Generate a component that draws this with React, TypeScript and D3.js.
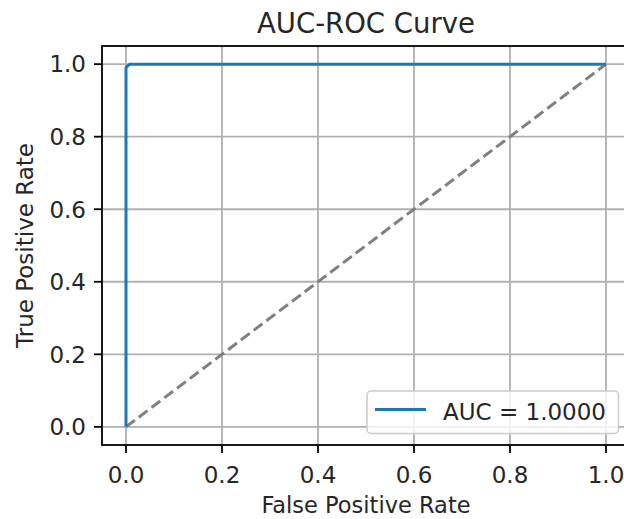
import React from "react";
import * as d3 from "d3";

const fpr = [0, 0, 0.004, 0.008, 1];
const tpr = [0, 0.99, 0.996, 1, 1];
const diagX = [0, 1];
const diagY = [0, 1];
const xTicks = [0, 0.2, 0.4, 0.6, 0.8, 1.0];
const yTicks = [0, 0.2, 0.4, 0.6, 0.8, 1.0];
const title = "AUC-ROC Curve";
const xLabel = "False Positive Rate";
const yLabel = "True Positive Rate";
const legendLabel = "AUC = 1.0000";

const W = 624;
const H = 519;
const L = 102, R = 630, T = 46, B = 445;
const FONT = "DejaVu Sans";

export default function App() {
  const x = d3.scaleLinear().domain([-0.05, 1.05]).range([L, R]);
  const y = d3.scaleLinear().domain([-0.05, 1.05]).range([B, T]);
  const line = d3.line<[number, number]>().x((d) => x(d[0])).y((d) => y(d[1]));
  const roc = line(fpr.map((f, i) => [f, tpr[i]] as [number, number])) || "";
  const diag = line(diagX.map((f, i) => [f, diagY[i]] as [number, number])) || "";
  const cx = (L + R) / 2;
  const cy = (T + B) / 2;

  return (
    <svg
      width={W}
      height={H}
      style={{ position: "absolute", left: 0, top: 0, background: "#fff" }}
      fontFamily={FONT}
    >
      <defs>
        <clipPath id="ax">
          <rect x={L} y={T} width={R - L} height={B - T} />
        </clipPath>
      </defs>
      <rect x={0} y={0} width={W} height={H} fill="#fff" />
      {xTicks.map((t) => (
        <line key={"gx" + t} x1={x(t)} x2={x(t)} y1={T} y2={B} stroke="#b0b0b0" strokeWidth={1.8} />
      ))}
      {yTicks.map((t) => (
        <line key={"gy" + t} x1={L} x2={R} y1={y(t)} y2={y(t)} stroke="#b0b0b0" strokeWidth={1.8} />
      ))}
      <g clipPath="url(#ax)">
        <path d={diag} fill="none" stroke="#808080" strokeWidth={3} strokeDasharray="11,5" />
        <path d={roc} fill="none" stroke="#1f77b4" strokeWidth={3} strokeLinejoin="round" />
      </g>
      <rect x={L} y={T} width={R - L} height={B - T} fill="none" stroke="#000" strokeWidth={1.8} />
      {xTicks.map((t) => (
        <g key={"tx" + t}>
          <line x1={x(t)} x2={x(t)} y1={B} y2={B + 8} stroke="#000" strokeWidth={1.8} />
          <text x={x(t)} y={483} fontSize={23} textAnchor="middle" fill="#262626">
            {t.toFixed(1)}
          </text>
        </g>
      ))}
      {yTicks.map((t) => (
        <g key={"ty" + t}>
          <line x1={L - 8} x2={L} y1={y(t)} y2={y(t)} stroke="#000" strokeWidth={1.8} />
          <text x={86} y={y(t) + 8.3} fontSize={23} textAnchor="end" fill="#262626">
            {t.toFixed(1)}
          </text>
        </g>
      ))}
      <text x={cx} y={33} fontSize={27.5} textAnchor="middle" fill="#262626">
        {title}
      </text>
      <text x={cx} y={513} fontSize={22.5} textAnchor="middle" fill="#262626">
        {xLabel}
      </text>
      <text
        transform={`translate(33,${cy}) rotate(-90)`}
        fontSize={23}
        textAnchor="middle"
        fill="#262626"
      >
        {yLabel}
      </text>
      <g>
        <rect
          x={367}
          y={391}
          width={251.5}
          height={42.5}
          rx={4}
          fill="#fff"
          fillOpacity={0.8}
          stroke="#cccccc"
          strokeWidth={1.5}
        />
        <line x1={375} x2={426} y1={409.5} y2={409.5} stroke="#1f77b4" strokeWidth={3} />
        <text x={443} y={419.5} fontSize={23} fill="#262626">
          {legendLabel}
        </text>
      </g>
    </svg>
  );
}
